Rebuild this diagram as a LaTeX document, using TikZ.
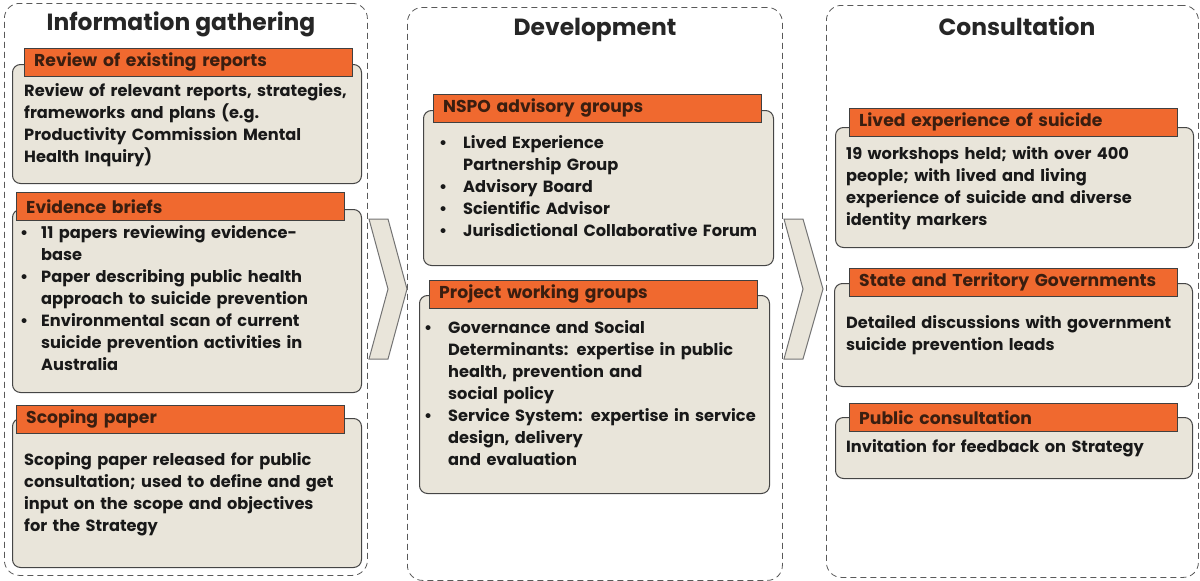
\documentclass[tikz,border=0pt]{standalone}
\usepackage{fontspec}
\setmainfont{Poppins}
\usepackage{tikz}
\usetikzlibrary{positioning}
\definecolor{hdorange}{HTML}{F0692F}
\definecolor{boxfill}{HTML}{E9E5DA}
\definecolor{hdtext}{HTML}{3A1E10}
\definecolor{edgegray}{HTML}{454545}
\tikzset{
  stage/.style={ draw=black!65, dash pattern=on 6pt off 4pt, rounded corners=15pt, line width=0.8pt, anchor=north west, inner sep=0pt }
}
\tikzset{
  panel/.style={ draw=edgegray, fill=boxfill, rounded corners=8pt, line width=1pt, anchor=north west, inner sep=0pt }
}
\tikzset{
  head/.style={ draw=black!75, fill=hdorange, text=hdtext, anchor=north west, minimum height=28pt, text width=308pt, inner xsep=10pt, inner ysep=0pt, align=left, font=\fontsize{17.2}{20}\selectfont\bfseries }
}
\tikzset{
  body/.style={ anchor=base west, inner sep=0pt, text width=380pt, align=left, text=black!90, font=\fontsize{16.2}{22}\selectfont\bfseries }
}
\tikzset{
  title/.style={ inner sep=0pt, text=black!85, font=\fontsize{23.4}{26}\selectfont\bfseries }
}
\tikzset{
  chevron/.style={ draw=black!55, fill=boxfill, line width=1pt, line join=miter }
}
\newcommand{\bl}[1]{\makebox[#1][l]{\textbullet}}
\newcommand{\ind}[1]{\hspace*{#1}}

\begin{document}
\begin{tikzpicture}[x=1pt, y=-1pt]
        \useasboundingbox (0,0) rectangle (1200,581);
        \node[stage, minimum width=363pt, minimum height=572pt] (st1) at (4,3) {};
        \node[stage, minimum width=375pt, minimum height=573pt] (st2) at (407,7) {};
        \node[stage, minimum width=372pt, minimum height=572pt] (st3) at (826,5) {};
        \node[title] (t1) at (181,24) {Information gathering};
        \node[title] (t2) at (595,30) {Development};
        \node[title] (t3) at (1017,26) {Consultation};

        \node[panel, minimum width=349pt, minimum height=119pt] (revbox) at (12,64) {};
        \node[head] (revhead) at (24,48) {Review of existing reports};
        \node[body] (revtext) at (24,96) {Review of relevant reports, strategies,\\frameworks and plans (e.g.\\Productivity Commission Mental\\Health Inquiry)};

        \node[panel, minimum width=349pt, minimum height=183pt] (evibox) at (12,209) {};
        \node[head] (evihead) at (16,192) {Evidence briefs};
        \node[body] (evitext) at (20,238) {\bl{21pt}11 papers reviewing evidence-\\\ind{21pt}base\\\bl{21pt}Paper describing public health\\\ind{21pt}approach to suicide prevention\\\bl{21pt}Environmental scan of current\\\ind{21pt}suicide prevention activities in\\\ind{21pt}Australia};

        \node[panel, minimum width=349pt, minimum height=149pt] (scobox) at (12,418) {};
        \node[head] (scohead) at (16,405) {Scoping paper};
        \node[body] (scotext) at (24,465) {Scoping paper released for public\\consultation; used to define and get\\input on the scope and objectives\\for the Strategy};

        \node[panel, minimum width=350pt, minimum height=155pt] (nspobox) at (423,110) {};
        \node[head] (nspohead) at (433,94) {NSPO advisory groups};
        \node[body] (nspotext) at (439,148) {\bl{24pt}Lived Experience\\\ind{24pt}Partnership Group\\\bl{24pt}Advisory Board\\\bl{24pt}Scientific Advisor\\\bl{24pt}Jurisdictional Collaborative Forum};

        \node[panel, minimum width=350pt, minimum height=198pt] (projbox) at (419,295) {};
        \node[head] (projhead) at (429,280) {Project working groups};
        \node[body] (projtext) at (424,333) {\bl{24pt}Governance and Social\\\ind{24pt}Determinants: expertise in public\\\ind{24pt}health, prevention and\\\ind{24pt}social policy\\\bl{24pt}Service System: expertise in service\\\ind{24pt}design, delivery\\\ind{24pt}and evaluation};

        \node[panel, minimum width=358pt, minimum height=120pt] (livedbox) at (835,127) {};
        \node[head] (livedhead) at (849,108) {Lived experience of suicide};
        \node[body] (livedtext) at (846,159) {19 workshops held; with over 400\\people; with lived and living\\experience of suicide and diverse\\identity markers};

        \node[panel, minimum width=358pt, minimum height=103pt] (statebox) at (834,283) {};
        \node[head] (statehead) at (849,268) {State and Territory Governments};
        \node[body] (statetext) at (846,328) {Detailed discussions with government\\suicide prevention leads};

        \node[panel, minimum width=357pt, minimum height=61pt] (pubbox) at (835,417) {};
        \node[head] (pubhead) at (849,403) {Public consultation};
        \node[body] (pubtext) at (846,452) {Invitation for feedback on Strategy};

        \draw[chevron] (369,219) -- (388,219) -- (407,289) -- (388,359) -- (369,359) -- (388,289) -- cycle;
        \draw[chevron] (784,219) -- (803,219) -- (823,289) -- (803,359) -- (784,359) -- (803,289) -- cycle;
      \end{tikzpicture}
\end{document}
